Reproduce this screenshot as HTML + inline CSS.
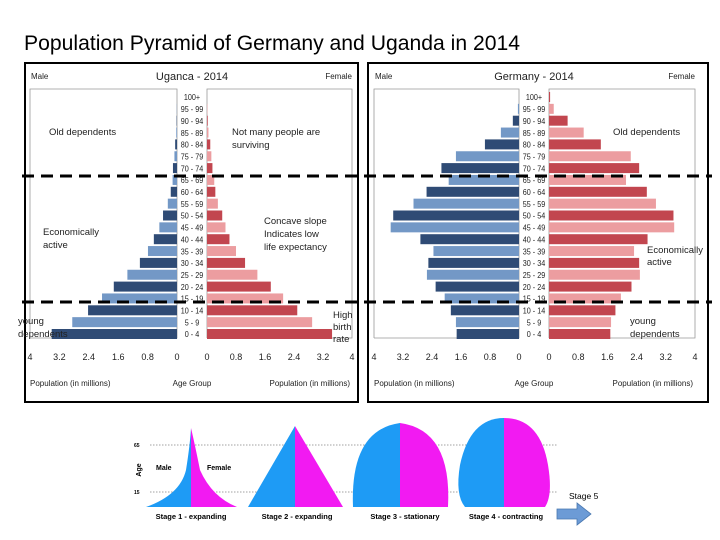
<!DOCTYPE html>
<html><head><meta charset="utf-8"><style>
html,body{margin:0;padding:0;background:#fff}
svg{display:block;font-family:"Liberation Sans",sans-serif}
</style></head><body>
<svg id="s" width="720" height="540" viewBox="0 0 720 540">
<text x="24" y="50" font-size="21" textLength="496" lengthAdjust="spacingAndGlyphs">Population Pyramid of Germany and Uganda in 2014</text>
<g id="charts"></g>
<g id="stages"></g>
</svg>
<script>
const ageGroups=["0 - 4","5 - 9","10 - 14","15 - 19","20 - 24","25 - 29","30 - 34","35 - 39","40 - 44","45 - 49","50 - 54","55 - 59","60 - 64","65 - 69","70 - 74","75 - 79","80 - 84","85 - 89","90 - 94","95 - 99","100+"];
const tickLabels=["4","3.2","2.4","1.6","0.8","0"];
const tickValues=[4,3.2,2.4,1.6,0.8,0];
const ugandaMale=[3.41,2.85,2.42,2.04,1.72,1.35,1.01,0.79,0.63,0.48,0.38,0.25,0.17,0.12,0.11,0.07,0.05,0.02,0.01,0.005,0];
const ugandaFemale=[3.45,2.9,2.49,2.1,1.76,1.39,1.05,0.8,0.62,0.51,0.42,0.3,0.23,0.2,0.15,0.12,0.09,0.04,0.02,0.01,0];
const germanyMale=[1.72,1.74,1.88,2.05,2.3,2.54,2.5,2.36,2.72,3.54,3.47,2.91,2.55,1.94,2.14,1.74,0.94,0.5,0.17,0.03,0];
const germanyFemale=[1.68,1.7,1.82,1.97,2.26,2.49,2.47,2.33,2.7,3.43,3.41,2.93,2.68,2.11,2.47,2.24,1.42,0.95,0.51,0.13,0.03];

const NS="http://www.w3.org/2000/svg";
function mk(tag,attrs,parent,txt){const e=document.createElementNS(NS,tag);for(const k in attrs)e.setAttribute(k,attrs[k]);if(txt!==undefined)e.textContent=txt;parent.appendChild(e);return e;}
const charts=document.getElementById('charts');

function pyramid(cfg){
  const g=mk('g',{},charts);
  
  
  const fr=mk('rect',{x:cfg.bx,y:63,width:cfg.bw,height:339,fill:'none',stroke:'#000','stroke-width':2},g);
  
  
  const top=89,bottom=338;
  const yRow=i=>334-i*11.85;
  const xl=v=>cfg.l0-v*(cfg.l0-cfg.l4)/4;
  const xr=v=>cfg.r0+v*(cfg.r4-cfg.r0)/4;
  mk('path',{d:`M${cfg.l4} ${bottom}V${top}H${cfg.l0}V${bottom}H${cfg.l4}`,fill:'none',stroke:'#999','stroke-width':0.8},g);
  mk('path',{d:`M${cfg.r0} ${bottom}V${top}H${cfg.r4}V${bottom}H${cfg.r0}`,fill:'none',stroke:'#999','stroke-width':0.8},g);
  for(let i=0;i<ageGroups.length;i++){
    const y=yRow(i);const dark=i%2===0;
    const bm=mk('rect',{x:xl(cfg.male[i]),y:y-5,width:xl(0)-xl(cfg.male[i]),height:10,fill:dark?'#2f4b75':'#7398c6'},g);
    
    
    const bf=mk('rect',{x:xr(0),y:y-5,width:xr(cfg.female[i])-xr(0),height:10,fill:dark?'#c2464f':'#ec9da0'},g);
    
    
    const t=mk('text',{x:0,y:0,'font-size':8.5,'text-anchor':'middle',fill:'#222',transform:`translate(${(cfg.l0+cfg.r0)/2},${y+3.2}) scale(0.85,1)`},g,ageGroups[i]);
    
    
  }
  for(let k=0;k<tickValues.length;k++){
    const a=mk('text',{x:xl(tickValues[k]),y:360,'font-size':9,'text-anchor':'middle',fill:'#222'},g,tickLabels[k]);
    
    
    const b=mk('text',{x:xr(tickValues[k]),y:360,'font-size':9,'text-anchor':'middle',fill:'#222'},g,tickLabels[k]);
    
    
  }
  const lab=(x,y,s,anchor,fs,name)=>{const t=mk('text',{x:x,y:y,'font-size':fs,'text-anchor':anchor,fill:'#222'},g,s);return t;};
  lab(cfg.l4+1,79,'Male','start',8,'male-label');
  lab(cfg.r4,79,'Female','end',8,'female-label');
  lab((cfg.l0+cfg.r0)/2,80,cfg.title,'middle',11,'chart-title');
  lab(cfg.l4,386,'Population (in millions)','start',8,'x-axis-title-left');
  lab((cfg.l0+cfg.r0)/2,386,'Age Group','middle',8,'y-axis-title');
  lab(cfg.r4-2,386,'Population (in millions)','end',8,'x-axis-title-right');
  cfg.notes.forEach(n=>{lab(n[0],n[1],n[2],'start',9.5,'annotation');});
}
pyramid({name:'uganda-pyramid',title:'Uganca - 2014',bx:25,bw:333,l4:30,l0:177,r0:207,r4:352,male:ugandaMale,female:ugandaFemale,
 notes:[[49,135,'Old dependents'],[232,135,'Not many people are'],[232,148,'surviving'],[43,235,'Economically'],[43,248,'active'],[264,224,'Concave slope'],[264,237,'Indicates low'],[264,250,'life expectancy'],[333,318,'High'],[333,330,'birth'],[333,342,'rate'],[18,324,'young'],[18,337,'dependents']]});
pyramid({name:'germany-pyramid',title:'Germany - 2014',bx:368,bw:340,l4:374,l0:519,r0:549,r4:695,male:germanyMale,female:germanyFemale,
 notes:[[613,135,'Old dependents'],[647,253,'Economically'],[647,265,'active'],[630,324,'young'],[630,337,'dependents']]});

[176,302].forEach(y=>{const d=mk('line',{x1:22,y1:y,x2:712,y2:y,stroke:'#000','stroke-width':3,'stroke-dasharray':'12 7'},charts);
 
 });

const st=document.getElementById('stages');
[445,492].forEach(y=>mk('line',{x1:150,y1:y,x2:557,y2:y,stroke:'#444','stroke-width':0.6,'stroke-dasharray':'1.5 1.5'},st));
mk('text',{x:134,y:447,'font-size':5,'font-weight':'bold'},st,'65');
mk('text',{x:134,y:494,'font-size':5,'font-weight':'bold'},st,'15');
mk('text',{x:0,y:0,'font-size':7,'font-weight':'bold',transform:'translate(141,470) rotate(-90)','text-anchor':'middle'},st,'Age');
const B='#1e9bf5',P='#f21af2';
function half(dL,dR){mk('path',{d:dL,fill:B},st);mk('path',{d:dR,fill:P},st);}
half('M146 507 Q180 495 186 470 Q190 445 191 428 L191 507Z','M191 507 V428 Q195 445 200 470 Q212 497 237 507Z');
half('M248 507 L295 426 V507Z','M295 507 V426 L343 507Z');
half('M353 507 Q350 430 400 423 V507Z','M400 507 V423 Q452 430 448 507Z');
half('M465 507 Q455 495 460 465 Q470 418 504 418 V507Z','M504 507 V418 Q540 418 548 465 Q553 495 545 507Z');
mk('text',{x:156,y:470,'font-size':7,'font-weight':'bold'},st,'Male');
mk('text',{x:207,y:470,'font-size':7,'font-weight':'bold'},st,'Female');
[['Stage 1 - expanding',191],['Stage 2 - expanding',297],['Stage 3 - stationary',405],['Stage 4 - contracting',506]].forEach(s=>{
 const t=mk('text',{x:s[1],y:519,'font-size':7.5,'font-weight':'bold','text-anchor':'middle'},st,s[0]);
 
 });
mk('text',{x:569,y:499,'font-size':8.5},st,'Stage 5');
const ar=mk('path',{d:'M557 509 H577 V503 L591 514 L577 525 V519 H557Z',fill:'#6c9bd6',stroke:'#4a78b0','stroke-width':0.8},st);


</script>
</body></html>
